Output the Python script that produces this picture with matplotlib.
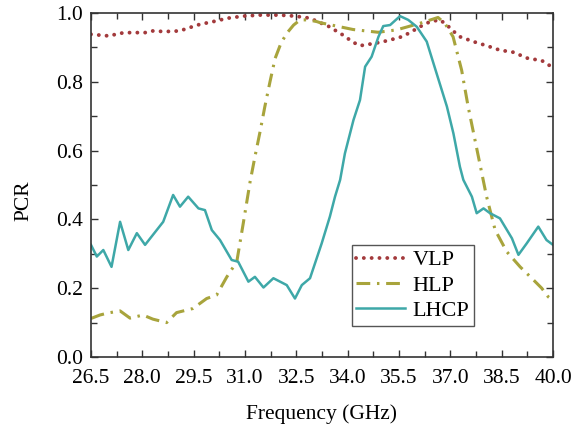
import matplotlib
matplotlib.use("Agg")
import matplotlib.pyplot as plt
from matplotlib.ticker import FixedLocator, MultipleLocator, FormatStrFormatter

plt.rcParams["font.family"] = ["Liberation Serif", "DejaVu Serif"]

# values
vlp_freq = [26.5, 27.06, 27.3, 27.64, 28.08, 28.27, 28.66, 29.1, 29.3, 29.68, 30.07,
            30.5, 30.95, 31.44, 32.02, 32.46, 32.9, 33.19, 33.43, 33.63, 33.83, 34.16,
            34.36, 34.8, 35.18, 35.58, 35.82, 36.11, 36.41, 36.7, 36.9, 37.08, 37.28,
            37.67, 38.06, 38.45, 38.84, 39.27, 39.67, 39.86, 40.0]
vlp_pcr = [0.938, 0.933, 0.941, 0.943, 0.943, 0.948, 0.946, 0.948, 0.955, 0.967, 0.975,
           0.985, 0.991, 0.994, 0.994, 0.991, 0.985, 0.972, 0.962, 0.95, 0.938, 0.915,
           0.905, 0.912, 0.92, 0.931, 0.943, 0.96, 0.975, 0.98, 0.965, 0.948, 0.931,
           0.917, 0.905, 0.892, 0.886, 0.868, 0.862, 0.849, 0.845]

hlp_freq = [26.5, 26.76, 27.0, 27.35, 27.64, 28.02, 28.31, 28.71, 29.0, 29.48, 29.88,
            30.17, 30.47, 30.76, 30.95, 31.15, 31.29, 31.44, 31.58, 31.73, 31.88,
            32.05, 32.22, 32.42, 32.61, 32.85, 33.1, 33.19, 34.16, 34.89, 35.43, 36.11,
            36.64, 36.84, 37.08, 37.33, 37.52, 37.72, 37.92, 38.06, 38.16, 38.31,
            38.65, 39.04, 39.43, 39.67, 39.86, 40.0]
hlp_pcr = [0.112, 0.122, 0.128, 0.134, 0.113, 0.122, 0.11, 0.1, 0.129, 0.141, 0.17,
           0.18, 0.233, 0.277, 0.389, 0.51, 0.582, 0.655, 0.728, 0.8, 0.868,
           0.912, 0.941, 0.965, 0.98, 0.98, 0.975, 0.972, 0.952, 0.944, 0.951, 0.97,
           0.987, 0.97, 0.931, 0.834, 0.728, 0.631, 0.534, 0.466, 0.427, 0.369,
           0.306, 0.262, 0.224, 0.2, 0.175, 0.165]

lhcp_freq = [26.5, 26.67, 26.86, 27.1, 27.35, 27.59, 27.84, 28.08, 28.27, 28.61, 28.9,
             29.1, 29.34, 29.64, 29.83, 30.03, 30.27, 30.61, 30.8, 31.1, 31.29, 31.54,
             31.83, 32.22, 32.46, 32.66, 32.9, 33.24, 33.48, 33.63, 33.78, 33.92,
             34.17, 34.36, 34.51, 34.7, 34.9, 35.04, 35.24, 35.53, 35.77, 36.02,
             36.31, 36.6, 36.9, 37.09, 37.28, 37.38, 37.63, 37.77, 37.97, 38.16,
             38.45, 38.8, 38.99, 39.23, 39.57, 39.81, 40.0]
lhcp_pcr = [0.326, 0.292, 0.311, 0.262, 0.393, 0.311, 0.36, 0.326, 0.35, 0.393, 0.471,
            0.437, 0.466, 0.432, 0.427, 0.369, 0.34, 0.282, 0.277, 0.219, 0.233, 0.202,
            0.229, 0.209, 0.17, 0.209, 0.229, 0.33, 0.408, 0.466, 0.515, 0.592,
            0.689, 0.747, 0.844, 0.873, 0.931, 0.962, 0.965, 0.991, 0.98, 0.96,
            0.917, 0.824, 0.728, 0.65, 0.553, 0.515, 0.466, 0.418, 0.432, 0.418,
            0.403, 0.345, 0.297, 0.33, 0.379, 0.34, 0.326]

x_ticks = [26.5, 28.0, 29.5, 31.0, 32.5, 34.0, 35.5, 37.0, 38.5, 40.0]
x_minor_ticks = [27.25, 28.75, 30.25, 31.75, 33.25, 34.75, 36.25, 37.75, 39.25]
y_ticks = [0.0, 0.2, 0.4, 0.6, 0.8, 1.0]


def main() -> None:
    fig = plt.figure(figsize=(5.73, 4.28), dpi=100)
    ax = fig.add_axes([0.1588, 0.1659, 0.8063, 0.8037])

    ax.plot(vlp_freq, vlp_pcr, color="#a33a3c", linewidth=2.8,
            linestyle=(0, (0.01, 2.0)), dash_capstyle="round", label="VLP")
    ax.plot(hlp_freq, hlp_pcr, color="#a8a43c", linewidth=2.2,
            linestyle=(0, (4.5, 2.2, 0.8, 2.2)), label="HLP")
    ax.plot(lhcp_freq, lhcp_pcr, color="#3ea8a8", linewidth=1.8, label="LHCP")

    ax.set_xlim(26.5, 40.0)
    ax.set_ylim(0.0, 1.0)
    ax.xaxis.set_major_locator(FixedLocator(x_ticks))
    ax.xaxis.set_minor_locator(FixedLocator(x_minor_ticks))
    ax.yaxis.set_major_locator(FixedLocator(y_ticks))
    ax.yaxis.set_minor_locator(MultipleLocator(0.1))
    ax.xaxis.set_major_formatter(FormatStrFormatter("%.1f"))
    ax.yaxis.set_major_formatter(FormatStrFormatter("%.1f"))
    ax.tick_params(which="both", direction="in", top=True, right=True,
                   labelsize=15.5, color="#333333")
    ax.tick_params(which="major", length=5, width=1)
    ax.tick_params(which="minor", length=4, width=1)
    ax.tick_params(axis="x", pad=9)
    ax.tick_params(axis="y", pad=6)
    for spine in ax.spines.values():
        spine.set_linewidth(1.2)
        spine.set_color("#333333")

    ax.set_xlabel("Frequency (GHz)", fontsize=15.5, labelpad=11)
    ax.set_ylabel("PCR", fontsize=15.5)
    ax.yaxis.set_label_coords(-0.125, 0.455)

    ax.legend(loc="lower left", bbox_to_anchor=(0.564, 0.091), fontsize=16,
              frameon=True, fancybox=False, edgecolor="#555555", framealpha=1,
              handlelength=2.2, borderpad=0.2, labelspacing=0.22,
              handletextpad=0.35, borderaxespad=0)

    fig.savefig("out.png", dpi=100)


if __name__ == "__main__":
    main()
